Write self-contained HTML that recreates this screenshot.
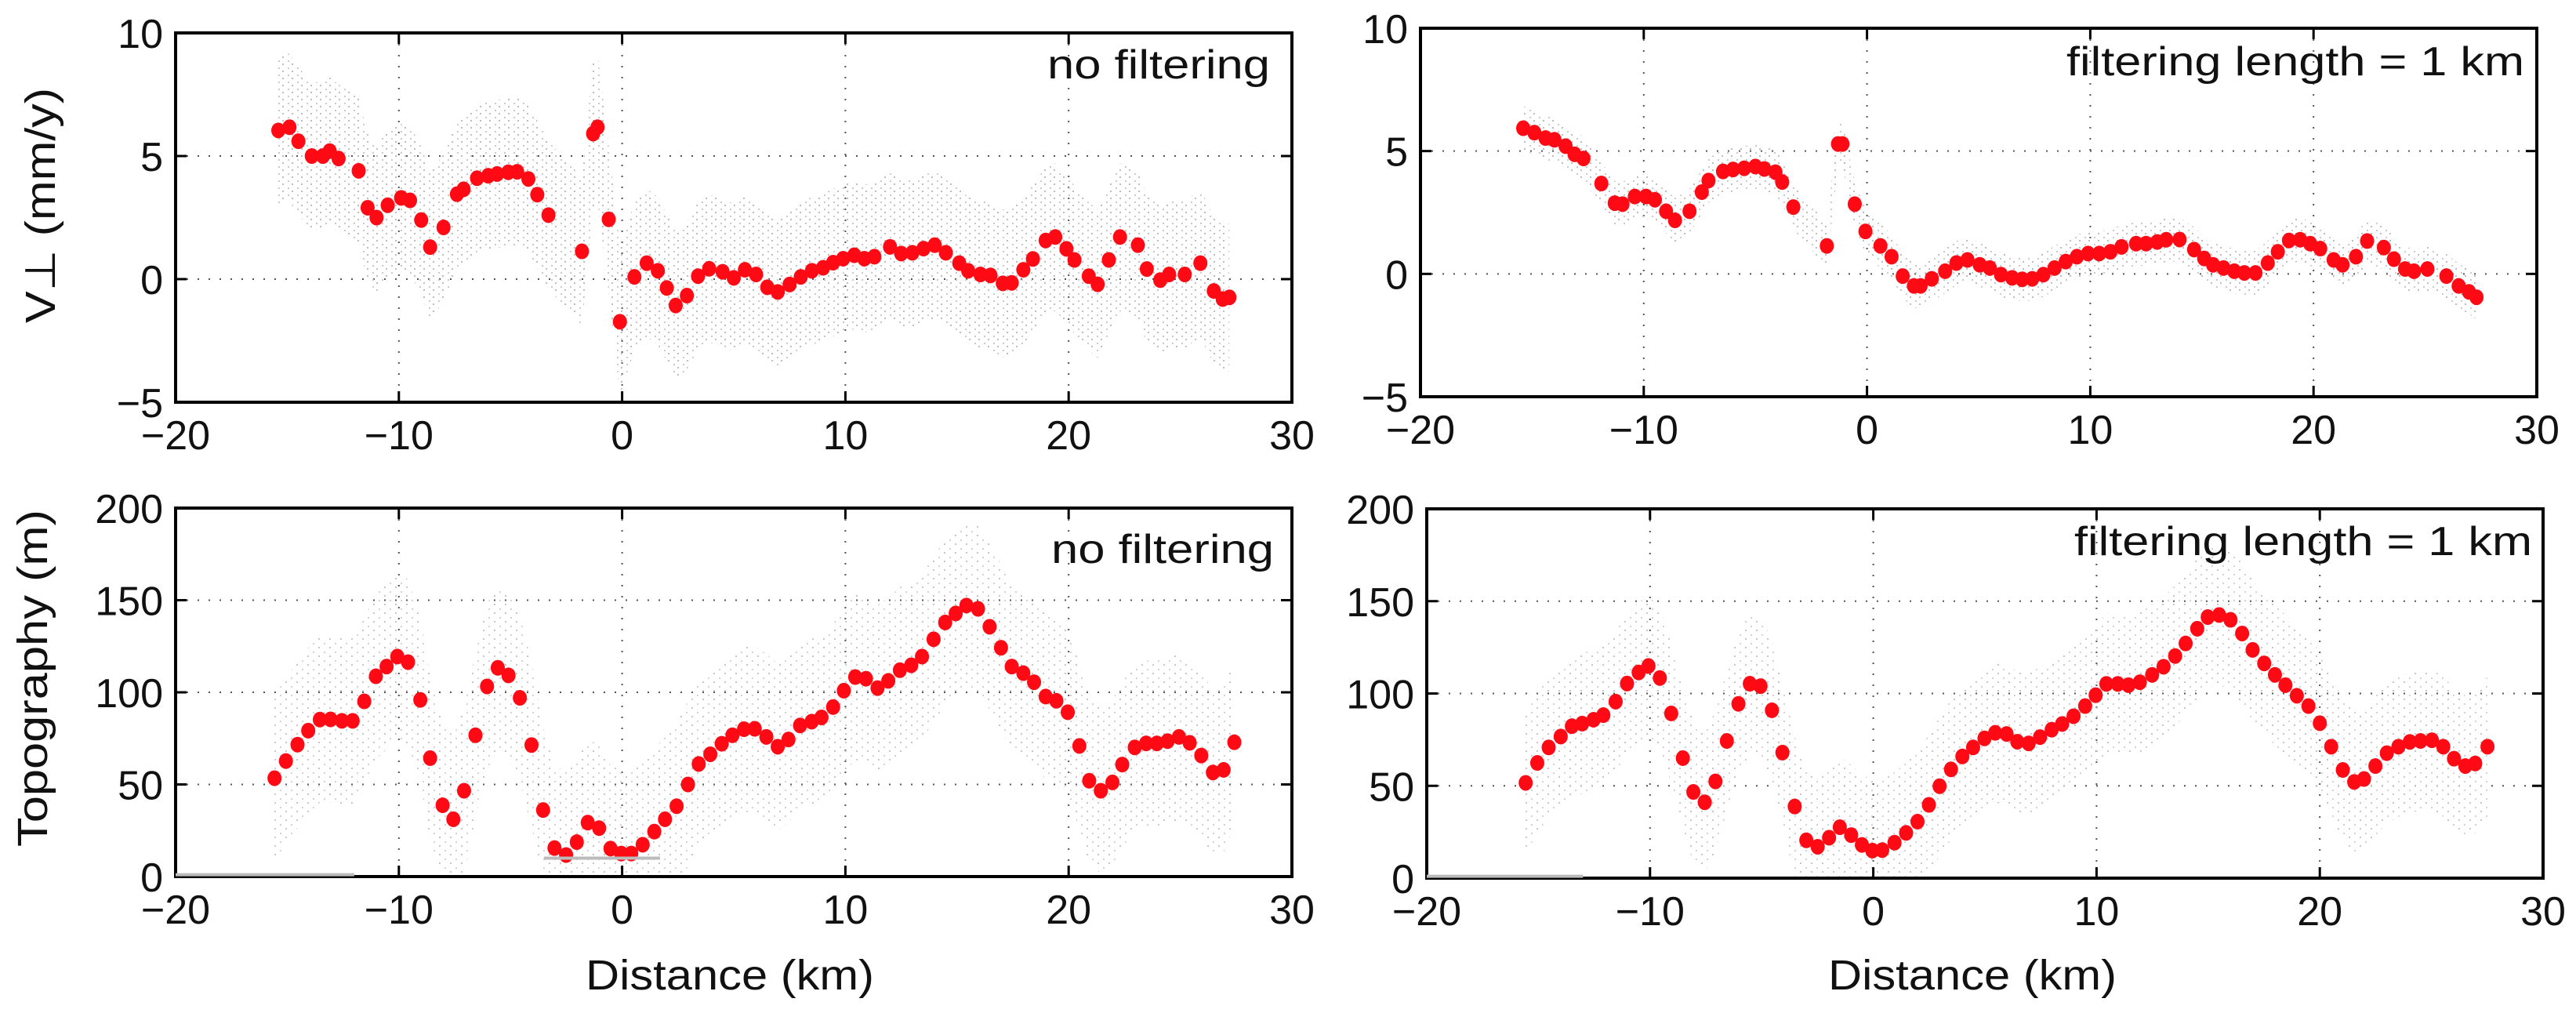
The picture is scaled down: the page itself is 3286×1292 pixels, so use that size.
<!DOCTYPE html>
<html><head><meta charset="utf-8"><style>html,body{margin:0;padding:0;background:#fff}svg{display:block}text{font-family:"Liberation Sans",sans-serif;fill:#111}</style></head>
<body>
<svg id="fig" width="3286" height="1292" xmlns="http://www.w3.org/2000/svg">
<defs>
<pattern id="dots" width="12" height="9" patternUnits="userSpaceOnUse">
<rect x="0" y="0" width="2" height="2" fill="#bdbdbd"/><rect x="7" y="5" width="2" height="2" fill="#cacaca"/>
</pattern>
<pattern id="dotsLight" width="14" height="11" patternUnits="userSpaceOnUse">
<rect x="0" y="0" width="2" height="2" fill="#c6c6c6"/><rect x="7" y="6" width="2" height="2" fill="#d2d2d2"/>
</pattern>
</defs>
<g id="root"></g>
</svg>
<script>
const tlX=[-15.4,-14.9,-14.5,-13.9,-13.4,-13.1,-12.7,-11.8,-11.4,-11.0,-10.5,-9.9,-9.5,-9.0,-8.6,-8.0,-7.4,-7.1,-6.5,-6.0,-5.6,-5.1,-4.7,-4.2,-3.8,-3.3,-1.8,-1.3,-1.1,-0.6,-0.1,0.55,1.1,1.6,2.0,2.4,2.9,3.4,3.9,4.5,5.0,5.5,6.0,6.5,6.97,7.5,8.0,8.5,9.0,9.45,9.9,10.4,10.85,11.3,12.0,12.5,13.0,13.5,14.0,14.5,15.1,15.5,16.05,16.5,17.05,17.45,17.97,18.4,18.97,19.4,19.9,20.26,20.9,21.3,21.8,22.3,23.1,23.5,24.1,24.5,25.2,25.9,26.5,26.9,27.2];
const tlY=[6.04,6.17,5.6,5.0,5.0,5.2,4.9,4.4,2.9,2.5,3.0,3.3,3.2,2.4,1.3,2.1,3.45,3.65,4.1,4.2,4.27,4.34,4.36,4.07,3.43,2.6,1.13,5.91,6.17,2.43,-1.73,0.09,0.65,0.34,-0.36,-1.07,-0.67,0.12,0.42,0.3,0.05,0.38,0.19,-0.33,-0.52,-0.22,0.09,0.34,0.46,0.67,0.83,0.97,0.83,0.91,1.31,1.04,1.07,1.24,1.38,1.07,0.65,0.34,0.19,0.15,-0.17,-0.15,0.38,0.82,1.57,1.71,1.23,0.78,0.12,-0.21,0.78,1.71,1.38,0.41,-0.04,0.19,0.19,0.65,-0.48,-0.81,-0.74];
const trX=[-15.4,-14.9,-14.4,-14.0,-13.5,-13.1,-12.7,-11.9,-11.3,-10.95,-10.4,-9.9,-9.5,-9.0,-8.6,-7.95,-7.4,-7.1,-6.45,-6.0,-5.5,-5.0,-4.6,-4.1,-3.8,-3.3,-1.8,-1.3,-1.1,-0.55,-0.07,0.6,1.1,1.6,2.1,2.4,2.9,3.5,4.0,4.5,5.05,5.5,6.0,6.5,6.95,7.4,7.9,8.4,8.9,9.4,9.9,10.4,10.9,11.4,12.05,12.5,13.0,13.4,14.0,14.65,15.1,15.5,15.97,16.45,16.9,17.4,17.95,18.4,18.9,19.4,19.85,20.3,20.9,21.3,21.9,22.4,23.15,23.6,24.1,24.5,25.1,25.95,26.5,26.96,27.3];
const trY=[5.93,5.75,5.53,5.46,5.2,4.87,4.7,3.68,2.88,2.84,3.15,3.15,3.02,2.55,2.18,2.55,3.33,3.8,4.17,4.25,4.3,4.37,4.27,4.14,3.74,2.72,1.14,5.29,5.29,2.84,1.73,1.14,0.7,-0.09,-0.49,-0.49,-0.2,0.11,0.44,0.57,0.37,0.24,-0.03,-0.16,-0.22,-0.2,-0.03,0.24,0.5,0.7,0.83,0.83,0.9,1.1,1.23,1.23,1.3,1.39,1.4,0.99,0.63,0.37,0.24,0.11,0.04,0.04,0.44,0.9,1.36,1.39,1.23,1.03,0.57,0.37,0.7,1.34,1.07,0.6,0.2,0.11,0.2,-0.09,-0.49,-0.73,-0.95];
const blX=[-15.57,-15.06,-14.54,-14.06,-13.54,-13.06,-12.55,-12.07,-11.55,-11.03,-10.55,-10.07,-9.59,-9.04,-8.6,-8.04,-7.56,-7.08,-6.57,-6.05,-5.57,-5.09,-4.58,-4.06,-3.54,-3.03,-2.51,-2.03,-1.54,-1.03,-0.52,-0.04,0.41,0.92,1.44,1.92,2.44,2.95,3.43,3.95,4.46,4.94,5.46,5.94,6.46,6.97,7.45,7.97,8.49,8.93,9.45,9.93,10.44,10.92,11.44,11.92,12.44,12.95,13.43,13.95,14.47,14.94,15.42,15.94,16.46,16.97,17.45,17.97,18.45,18.97,19.45,19.96,20.48,20.92,21.44,21.96,22.4,22.96,23.47,23.95,24.43,24.94,25.42,25.94,26.46,26.94,27.42];
const blY=[53.4,62.7,71.6,79.2,85.2,85.3,84.5,84.5,95.1,108.7,114,119.4,116.4,95.9,64.3,38.7,31.1,46.6,76.7,103.2,113.3,109.2,97,71.4,36.1,15.5,11.7,18.7,29.3,26.3,15.2,12.5,12.5,17.3,24.4,31.1,38.2,50,61.1,66.4,72.1,76.7,80,80.2,75.8,70.5,74.4,82,84.1,86.4,92,100.9,108.3,107.4,102.3,106.2,112,114.7,119.4,128.8,137.9,142.8,147.1,145.3,135.6,124.2,114,110.4,105.5,97.7,95.4,89.2,70.9,52,46.6,51.1,60.8,70.1,72.3,72.3,73.5,75.8,72.6,65.7,56.5,57.9,72.9];
const brX=[-15.57,-15.05,-14.54,-14.0,-13.5,-13.04,-12.53,-12.09,-11.54,-11.03,-10.51,-10.07,-9.56,-9.05,-8.53,-8.06,-7.55,-7.07,-6.56,-6.04,-5.53,-5.05,-4.54,-4.07,-3.52,-3.0,-2.49,-1.98,-1.5,-0.99,-0.51,-0.04,0.4,0.95,1.47,1.98,2.49,2.97,3.48,3.99,4.47,4.98,5.46,5.97,6.45,6.96,7.47,7.99,8.46,8.97,9.49,9.96,10.44,10.95,11.43,11.94,12.49,13.0,13.52,13.99,14.51,14.98,15.49,16.0,16.52,16.99,17.51,17.99,18.46,18.97,19.49,20.0,20.51,21.03,21.54,21.98,22.49,23.0,23.52,24.03,24.51,25.02,25.53,26.01,26.52,26.96,27.51];
const brY=[51.6,62.4,70.8,76.7,82.3,83.7,85.8,88.3,95.6,105.4,111.4,114.9,108.4,89.2,65,46.7,41.1,52.4,74.3,94.4,105.3,104,90.9,68,38.8,20.5,17,21.9,27.6,23.3,18,14.9,15.2,19.2,24.5,30.6,39.7,49.8,58.9,65.9,70.8,75.7,78.7,78.1,73.9,73,76.4,80.4,83.5,87.7,93.2,99.1,105.2,105.2,104.5,106.1,110.1,114.5,120.3,127.1,135.1,141.4,142.5,139.9,132.5,123.6,116.3,110.1,104.5,98.8,93.2,83.9,71.2,58.6,52.1,53.7,60.7,67.7,71.2,73.8,74.3,74.7,71.2,64.7,60.7,62.1,71.2];
const xTicks=[-20,-10,0,10,20,30];
const vTicks=[-5,0,5,10];
const topoTicks=[0,50,100,150,200];
const vSpread=[3.0,0.9];
const topoSpread=[45,38];

const NS="http://www.w3.org/2000/svg";
const root=document.getElementById('root');
function mk(tag,attrs,parent){const e=document.createElementNS(NS,tag);for(const k in attrs)e.setAttribute(k,attrs[k]);(parent||root).appendChild(e);return e;}

function panel(name,x0,x1,yTop,yBot,ymin,ymax,yt,X,Y,spread,title,titleX,titleY,titleW,ylab,ylabX,ylabY,ylabW,xlab,xlabX,light){
  const g=mk('g',{});
  
  
  const sx=v=>x0+(v+20)/50*(x1-x0);
  const sy=v=>yBot-(v-ymin)/(ymax-ymin)*(yBot-yTop);
  xTicks.slice(1,-1).forEach(t=>{const l=mk('line',{x1:sx(t),x2:sx(t),y1:yTop,y2:yBot,stroke:'#555','stroke-width':2,'stroke-dasharray':'2 12'},g);});
  yt.slice(1,-1).forEach(t=>{const l=mk('line',{x1:x0,x2:x1,y1:sy(t),y2:sy(t),stroke:'#555','stroke-width':2,'stroke-dasharray':'2 12'},g);});
  let up='',lo='';
  for(let i=0;i<X.length;i++){up+=(i?'L':'M')+sx(X[i])+','+sy(Math.min(ymax,Y[i]+spread));}
  for(let i=X.length-1;i>=0;i--){lo+='L'+sx(X[i])+','+sy(Math.max(ymin,Y[i]-spread));}
  const env=mk('path',{d:up+lo+'Z',fill:light?'url(#dotsLight)':'url(#dots)'},g);
  
  
  for(let i=0;i<X.length;i++){const c=mk('ellipse',{cx:sx(X[i]),cy:sy(Y[i]),rx:9,ry:10,fill:'#ff0a14'},g);}
  const f=mk('rect',{x:x0,y:yTop,width:x1-x0,height:yBot-yTop,fill:'none',stroke:'#000','stroke-width':4},g);
  
  xTicks.forEach(t=>{mk('line',{x1:sx(t),x2:sx(t),y1:yBot,y2:yBot-14,stroke:'#000','stroke-width':3},g);mk('line',{x1:sx(t),x2:sx(t),y1:yTop,y2:yTop+14,stroke:'#000','stroke-width':3},g);
    const tx=mk('text',{x:sx(t),y:yBot+60,'font-size':52,'text-anchor':'middle'},g);tx.textContent=(t<0?'\u2212':'')+Math.abs(t);});
  yt.forEach(t=>{mk('line',{x1:x0,x2:x0+14,y1:sy(t),y2:sy(t),stroke:'#000','stroke-width':3},g);mk('line',{x1:x1,x2:x1-14,y1:sy(t),y2:sy(t),stroke:'#000','stroke-width':3},g);
    const tx=mk('text',{x:x0-16,y:sy(t)+19,'font-size':52,'text-anchor':'end'},g);tx.textContent=(t<0?'\u2212':'')+Math.abs(t);});
  const tt=mk('text',{x:titleX,y:titleY,'font-size':52,'text-anchor':'end',textLength:titleW,lengthAdjust:'spacingAndGlyphs'},g);tt.textContent=title;
  
  if(ylab){const yl=mk('text',{x:0,y:0,'font-size':54,'text-anchor':'middle',transform:`translate(${ylabX},${ylabY}) rotate(-90)`,textLength:ylabW,lengthAdjust:'spacingAndGlyphs'},g);yl.textContent=ylab;}
  if(xlab){const xl=mk('text',{x:xlabX,y:1262,'font-size':54,'text-anchor':'middle',textLength:368,lengthAdjust:'spacingAndGlyphs'},g);xl.textContent=xlab;}
  return {g,sx,sy};
}
panel('velocity-panel-no-filtering',224,1648,42,513,-5,10,vTicks,tlX,tlY,vSpread[0],'no filtering',1620,100,284,'V\u22a5  (mm/y)',70,262,300,null,0,false);
panel('velocity-panel-filtered',1812,3236,36,506,-5,10,vTicks,trX,trY,vSpread[1],'filtering length = 1 km',3220,96,584,null,0,0,0,null,0,false);
const bl=panel('topography-panel-no-filtering',224,1648,648,1118,0,200,topoTicks,blX,blY,topoSpread[0],'no filtering',1625,718,284,'Topography (m)',60,865,430,'Distance (km)',931,true);
const br=panel('topography-panel-filtered',1820,3244,649,1120,0,200,topoTicks,brX,brY,topoSpread[1],'filtering length = 1 km',3230,708,584,null,0,0,0,'Distance (km)',2516,true);
const z1=mk('line',{x1:bl.sx(-20),x2:bl.sx(-12),y1:bl.sy(1),y2:bl.sy(1),stroke:'#bbb','stroke-width':4},bl.g);

const z2=mk('line',{x1:bl.sx(-3.5),x2:bl.sx(1.7),y1:bl.sy(10),y2:bl.sy(10),stroke:'#bbb','stroke-width':4},bl.g);

const z3=mk('line',{x1:br.sx(-20),x2:br.sx(-13),y1:br.sy(1),y2:br.sy(1),stroke:'#bbb','stroke-width':4},br.g);

</script>
</body></html>
